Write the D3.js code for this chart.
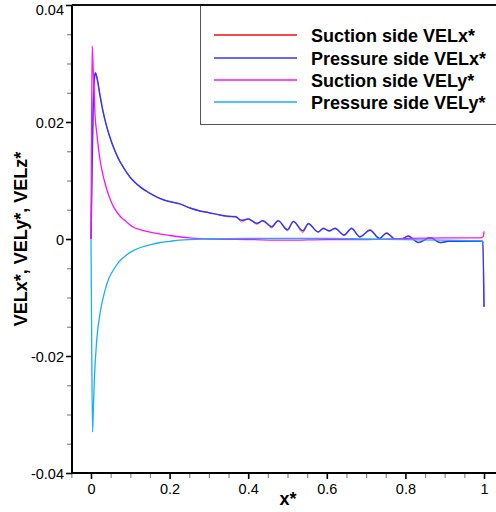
<!DOCTYPE html>
<html><head><meta charset="utf-8">
<script src="https://cdn.jsdelivr.net/npm/d3@7/dist/d3.min.js"></script>
<style>body{margin:0;background:#fff}svg{display:block}</style>
</head><body>
<svg id="c" width="496" height="512"></svg>
<script>
const seriesNames = ["Suction side VELx*","Pressure side VELx*","Suction side VELy*","Pressure side VELy*"];
const seriesColors = ["#ee1010","#3535ff","#ff10ff","#18b0f5"];
const xMajorTicks = [0,0.2,0.4,0.6,0.8,1];
const xTickLabels = ["0","0.2","0.4","0.6","0.8","1"];
const yMajorTicks = [0.04,0.02,0,-0.02,-0.04];
const yTickLabels = ["0.04","0.02","0","-0.02","-0.04"];

const pressureVelX = [[0,0],[0.002,0.009],[0.005,0.021],[0.008,0.027],[0.011,0.0284],[0.015,0.0276],[0.023,0.0245],[0.03,0.0220],[0.04,0.0192],[0.05,0.0170],[0.06,0.0152],[0.07,0.0137],[0.08,0.0125],[0.1,0.0105],[0.125,0.0089],[0.15,0.0078],[0.184,0.0067],[0.2,0.0064],[0.226,0.0060],[0.252,0.0053],[0.277,0.0048],[0.3,0.0045],[0.328,0.0041],[0.35,0.0039],[0.368,0.0038],[0.383,0.0032],[0.4,0.0034],[0.422,0.0027],[0.437,0.0031],[0.46,0.0021],[0.476,0.0031],[0.5,0.0016],[0.515,0.0030],[0.539,0.0014],[0.553,0.0026],[0.578,0.0012],[0.591,0.0018],[0.606,0.0014],[0.621,0.0018],[0.644,0.0007],[0.663,0.0018],[0.684,0.0004],[0.71,0.0015],[0.734,0.0001],[0.752,0.0010],[0.774,0.0000],[0.79,0.0000],[0.807,0.0005],[0.833,-0.0006],[0.863,0.0002],[0.888,-0.0006],[0.91,-0.0004],[0.95,-0.0004],[0.997,-0.0004],[1.0,-0.0116]];
const suctionVelX = [[0,0],[0.002,0.009],[0.005,0.021],[0.008,0.027],[0.011,0.0284],[0.015,0.0276],[0.023,0.0245],[0.03,0.0220],[0.04,0.0192],[0.05,0.0170],[0.06,0.0152],[0.07,0.0137],[0.08,0.0125],[0.1,0.0105],[0.125,0.0089],[0.15,0.0078],[0.184,0.0067],[0.2,0.0064],[0.226,0.0060],[0.252,0.0053],[0.277,0.0048],[0.3,0.0045],[0.328,0.0041],[0.35,0.0038],[0.368,0.0039],[0.383,0.0029],[0.4,0.0035],[0.422,0.0025],[0.437,0.0031],[0.46,0.0019],[0.476,0.0032],[0.5,0.0014],[0.515,0.0030],[0.539,0.0011],[0.553,0.0027],[0.578,0.0012],[0.591,0.0019],[0.606,0.0013],[0.621,0.0019],[0.644,0.0006],[0.663,0.0019],[0.684,0.0003],[0.71,0.0016],[0.734,0.0000],[0.752,0.0011],[0.774,-0.0001],[0.79,0.0000],[0.807,0.0005],[0.833,-0.0006],[0.863,0.0002],[0.888,-0.0006],[0.91,-0.0004],[0.95,-0.0004],[0.997,-0.0004],[1.0,-0.0116]];
const suctionVelY = [[0,0],[0.001,0.012],[0.003,0.033],[0.006,0.028],[0.0085,0.0243],[0.010,0.0215],[0.014,0.0185],[0.019,0.0155],[0.023,0.0135],[0.031,0.0108],[0.04,0.0085],[0.05,0.0066],[0.06,0.0052],[0.075,0.0038],[0.091,0.0029],[0.108,0.0020],[0.125,0.0016],[0.142,0.0013],[0.17,0.0009],[0.2,0.0006],[0.25,0.0002],[0.3,0.0000],[0.4,-0.0001],[0.5,-0.0002],[0.6,-0.0001],[0.7,-0.0001],[0.8,0.0001],[0.9,0.0002],[0.99,0.0002],[0.998,0.0004],[1.0,0.0013]];
const pressureVelY = [[0,0],[0.002,-0.02],[0.004,-0.033],[0.006,-0.029],[0.0085,-0.0241],[0.0145,-0.0173],[0.023,-0.0127],[0.036,-0.0087],[0.045,-0.0068],[0.057,-0.0053],[0.07,-0.0040],[0.091,-0.0027],[0.11,-0.0019],[0.133,-0.0013],[0.155,-0.0009],[0.176,-0.0006],[0.2,-0.0004],[0.226,-0.0002],[0.3,0.0],[0.4,0.0001],[0.5,0.0001],[0.6,0.0001],[0.7,0.0],[0.8,-0.0001],[0.9,-0.0002],[0.99,-0.0003],[1.0,-0.0006]];
const seriesData = [suctionVelX, pressureVelX, suctionVelY, pressureVelY];

(function(){
const svg = d3.select("#c");
const FONT = "'Liberation Sans', Arial, Helvetica, sans-serif";
const pLeft = 72, pTop = 5, pBottom = 473, pRight = 500;
const x = d3.scaleLinear().domain([0,1]).range([91,484]);
const xa = x.copy().domain([x.invert(pLeft), x.invert(pRight)]).range([pLeft, pRight]);
const y = d3.scaleLinear().domain([-0.04,0.04]).range([pBottom, pTop]);

const xMinor = d3.range(-0.05, 1.06, 0.05).filter(v => xMajorTicks.every(m => Math.abs(m - v) > 1e-6));
const yMinor = d3.range(-0.04, 0.0401, 0.005).filter(v => yMajorTicks.every(m => Math.abs(m - v) > 1e-6));

svg.append("g").attr("transform", `translate(0,${pBottom})`)
  .call(d3.axisBottom(xa).tickValues(xMinor).tickSize(5).tickFormat(""))
  .call(g => g.select(".domain").remove())
  .call(g => g.selectAll("line").attr("stroke", "#888").attr("stroke-width", 1.2));
svg.append("g").attr("transform", `translate(0,${pBottom})`)
  .call(d3.axisBottom(xa).tickValues(xMajorTicks).tickSize(6).tickPadding(5)
    .tickFormat((d,i) => xTickLabels[i]))
  .call(g => g.select(".domain").remove())
  .call(g => g.selectAll("line").attr("stroke", "#000").attr("stroke-width", 1.6))
  .call(g => g.selectAll("text").attr("font-family", FONT).attr("font-size", 14.5).attr("fill", "#000"));

svg.append("g").attr("transform", `translate(${pLeft},0)`)
  .call(d3.axisLeft(y).tickValues(yMinor).tickSize(5).tickFormat(""))
  .call(g => g.select(".domain").remove())
  .call(g => g.selectAll("line").attr("stroke", "#888").attr("stroke-width", 1.2));
svg.append("g").attr("transform", `translate(${pLeft},0)`)
  .call(d3.axisLeft(y).tickValues(yMajorTicks).tickSize(6).tickPadding(2)
    .tickFormat((d,i) => yTickLabels[i]))
  .call(g => g.select(".domain").remove())
  .call(g => g.selectAll("line").attr("stroke", "#000").attr("stroke-width", 1.6))
  .call(g => g.selectAll("text").attr("font-family", FONT).attr("font-size", 14.5).attr("fill", "#000")
     .attr("dy", (d,i) => i === 0 ? "0.62em" : "0.4em"));

const line = d3.line().x(d => x(d[0])).y(d => y(d[1])).curve(d3.curveMonotoneX);
const widths = [0.6, 1.5, 1.3, 1.3];
const plot = svg.append("g");
seriesData.forEach((s, i) => {
  plot.append("path").datum(s).attr("d", line).attr("fill", "none")
    .attr("stroke", seriesColors[i]).attr("stroke-width", widths[i]).attr("stroke-linejoin", "round");
});

svg.append("line").attr("x1", pLeft).attr("x2", pLeft).attr("y1", pTop).attr("y2", pBottom).attr("stroke", "#000").attr("stroke-width", 2);
svg.append("line").attr("x1", pLeft).attr("x2", 496).attr("y1", pBottom).attr("y2", pBottom).attr("stroke", "#000").attr("stroke-width", 2);

const lg = svg.append("g");
lg.append("rect").attr("x", 200.5).attr("y", pTop).attr("width", 320).attr("height", 119.5)
  .attr("fill", "#fff").attr("stroke", "#555").attr("stroke-width", 1);
svg.append("line").attr("x1", pLeft).attr("x2", 496).attr("y1", pTop).attr("y2", pTop).attr("stroke", "#111").attr("stroke-width", 2);
const legY = [35, 58, 80, 102];
seriesNames.forEach((n, i) => {
  lg.append("line").attr("x1", 214).attr("x2", 297).attr("y1", legY[i]).attr("y2", legY[i])
    .attr("stroke", seriesColors[i]).attr("stroke-width", 1.4);
  lg.append("text").attr("x", 311).attr("y", legY[i] + 6.5).text(n)
    .attr("font-family", FONT).attr("font-weight", "bold").attr("font-size", 18).attr("fill", "#000");
});

svg.append("text").attr("x", 288).attr("y", 505).attr("text-anchor", "middle")
  .attr("font-family", FONT).attr("font-weight", "bold").attr("font-size", 18).text("x*");
svg.append("text").attr("transform", `translate(27,${(pTop+pBottom)/2}) rotate(-90)`).attr("text-anchor", "middle")
  .attr("font-family", FONT).attr("font-weight", "bold").attr("font-size", 18).text("VELx*, VELy*, VELz*");
})();
</script>
</body></html>
